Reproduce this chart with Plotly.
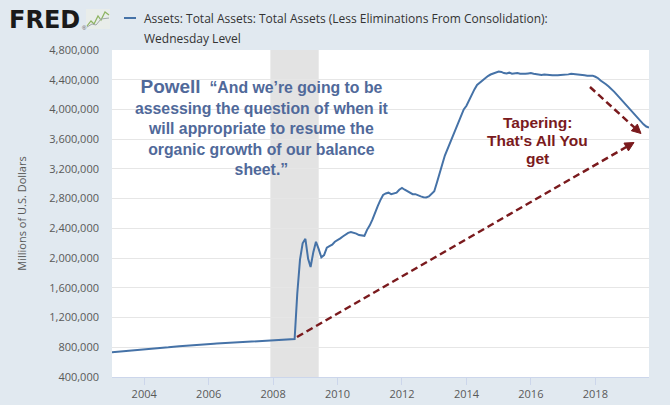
import math

import pandas as pd
import plotly.graph_objects as go

PAPER_COLOR = "#E1E9F0"
LINE_COLOR = "#4572A7"
GRID_COLOR = "#E6E6E6"
TEXT_COLOR = "#595959"
QUOTE_COLOR = "#50699A"
TAPER_COLOR = "#7A1A1D"
FONT = "Open Sans, sans-serif"

SERIES_NAME = "Assets: Total Assets: Total Assets (Less Eliminations From Consolidation):"
SERIES_NAME_2 = "Wednesday Level"
Y_TITLE = "Millions of U.S. Dollars"

# monthly readings (millions of US dollars), Jan 2003 .. Sep 2019
V2003 = [733000, 736000, 738000, 742000, 745000, 748000, 752000, 750000, 755000, 758000, 760000, 765000]
V2004 = [766000, 770000, 774000, 778000, 781000, 785000, 790000, 793000, 797000, 800000, 805000, 812000]
V2005 = [812000, 815000, 818000, 820000, 824000, 828000, 830000, 832000, 834000, 836000, 840000, 845000]
V2006 = [843000, 846000, 848000, 850000, 852000, 855000, 856000, 858000, 857000, 860000, 862000, 866000]
V2007 = [862000, 864000, 866000, 868000, 870000, 872000, 873000, 875000, 878000, 880000, 882000, 888000]
V2008 = [888000, 890000, 893000, 895000, 898000, 900000, 903000, 906000, 910000, 1520000, 1980000, 2200000]
V2009 = [2260000, 1990000, 1880000, 2080000, 2220000, 2120000, 2010000, 2040000, 2140000, 2160000, 2180000, 2220000]
V2010 = [2240000, 2265000, 2290000, 2320000, 2340000, 2350000, 2345000, 2330000, 2310000, 2300000, 2300000, 2380000]
V2011 = [2440000, 2520000, 2620000, 2700000, 2780000, 2850000, 2870000, 2880000, 2860000, 2870000, 2880000, 2920000]
V2012 = [2945000, 2920000, 2900000, 2870000, 2860000, 2860000, 2840000, 2830000, 2820000, 2815000, 2830000, 2860000]
V2013 = [2900000, 3020000, 3150000, 3260000, 3380000, 3470000, 3580000, 3660000, 3750000, 3840000, 3920000, 4000000]
V2014 = [4050000, 4130000, 4200000, 4270000, 4330000, 4360000, 4400000, 4430000, 4450000, 4470000, 4485000, 4495000]
V2015 = [4510000, 4505000, 4490000, 4485000, 4495000, 4480000, 4485000, 4490000, 4480000, 4475000, 4480000, 4485000]
V2016 = [4490000, 4480000, 4475000, 4470000, 4465000, 4470000, 4472000, 4465000, 4460000, 4458000, 4460000, 4465000]
V2017 = [4465000, 4475000, 4472000, 4480000, 4478000, 4470000, 4470000, 4468000, 4460000, 4455000, 4455000, 4455000]
V2018 = [4440000, 4420000, 4390000, 4370000, 4340000, 4310000, 4280000, 4240000, 4200000, 4160000, 4120000, 4080000]
V2019 = [4040000, 3990000, 3950000, 3910000, 3870000, 3830000, 3800000, 3770000, 3755000]

values = (V2003 + V2004 + V2005 + V2006 + V2007 + V2008 + V2009 + V2010
          + V2011 + V2012 + V2013 + V2014 + V2015 + V2016 + V2017 + V2018 + V2019)
dates = pd.date_range("2003-01-01", periods=len(values), freq="MS")

RECESSION = ("2007-12-01", "2009-06-01")
X_RANGE = ["2003-01-01", "2019-09-01"]
Y_RANGE = [400000, 4800000]

QUOTE = ("<span style='font-size:19px'>Powell</span>  \u201cAnd we\u2019re going to be<br>"
         "assessing the question of when it<br>"
         "will appropriate to resume the<br>"
         "organic growth of our balance<br>"
         "sheet.\u201d")
TAPER_LINES = ["Tapering:", "That's All You", "get"]

# plot area in pixels: x 112..649, y 50..377
L, R, T, B = 112, 649, 50, 377


def px(x):
    return (x - L) / (R - L)


def py(y):
    return (B - y) / (B - T)


def dashed_arrow(x0, y0, x1, y1, head_len=9, head_half=4.5):
    """Dashed line with a filled head, given in page pixels."""
    dx, dy = x1 - x0, y1 - y0
    n = math.hypot(dx, dy)
    ux, uy = dx / n, dy / n
    bx, by = x1 - head_len * ux, y1 - head_len * uy
    vx, vy = -uy * head_half, ux * head_half
    line = dict(type="line", xref="paper", yref="paper", x0=px(x0), y0=py(y0),
                x1=px(bx), y1=py(by),
                line={"color": TAPER_COLOR, "width": 2.5, "dash": "7px,4px"})
    head = dict(type="path", xref="paper", yref="paper",
                path="M {} {} L {} {} L {} {} Z".format(
                    px(x1), py(y1), px(bx + vx), py(by + vy), px(bx - vx), py(by - vy)),
                fillcolor=TAPER_COLOR, line={"color": TAPER_COLOR, "width": 1})
    return [line, head]


fig = go.Figure()
fig.add_trace(go.Scatter(
    x=dates, y=values, mode="lines",
    line={"color": LINE_COLOR, "width": 2},
    showlegend=False, hoverinfo="x+y",
))

shapes = [
    dict(type="rect", xref="x", yref="paper", x0=RECESSION[0], x1=RECESSION[1],
         y0=0, y1=1, fillcolor="#E3E3E3", line={"width": 0}, layer="below"),
    # legend swatch
    dict(type="line", xref="paper", yref="paper", x0=px(124), x1=px(136),
         y0=py(18), y1=py(18), line={"color": LINE_COLOR, "width": 2}),
    # FRED icon
    dict(type="rect", xref="paper", yref="paper", x0=px(86), x1=px(110),
         y0=py(29), y1=py(9), fillcolor="#E9EDEA", line={"width": 0}),
    dict(type="path", xref="paper", yref="paper",
         path="M {} {} L {} {} L {} {} L {} {} L {} {} L {} {} L {} {}".format(
             px(87), py(26), px(91), py(21), px(94), py(24), px(98), py(16),
             px(101), py(20), px(105), py(12), px(109), py(15)),
         line={"color": "#8DB360", "width": 1.2}),
    dict(type="path", xref="paper", yref="paper",
         path="M {} {} L {} {} L {} {} L {} {} L {} {}".format(
             px(87), py(27), px(92), py(24), px(96), py(25), px(101), py(19),
             px(109), py(18)),
         line={"color": "#A0A8A8", "width": 1}),
]
shapes += dashed_arrow(590, 87, 641, 133.5)
shapes += dashed_arrow(297, 337, 634, 142.5)

annotations = [
    dict(text="FRED", xref="paper", yref="paper", x=px(7), y=py(20), xanchor="left",
         yanchor="middle", showarrow=False,
         font={"family": "DejaVu Sans", "size": 24, "color": "#1A1A1A", "weight": "bold"}),
    dict(text="\u00ae", xref="paper", yref="paper", x=px(80), y=py(28), xanchor="left",
         yanchor="middle", showarrow=False, font={"family": "Arial", "size": 6, "color": "#555"}),
    dict(text=SERIES_NAME, xref="paper", yref="paper", x=px(142), y=py(18),
         xanchor="left", yanchor="middle", showarrow=False,
         font={"family": FONT, "size": 12, "color": "#333333"}),
    dict(text=SERIES_NAME_2, xref="paper", yref="paper", x=px(142), y=py(39),
         xanchor="left", yanchor="middle", showarrow=False,
         font={"family": FONT, "size": 12, "color": "#333333"}),
    dict(text=QUOTE, xref="paper", yref="paper", x=px(262), y=py(127),
         xanchor="center", yanchor="middle", align="center", showarrow=False,
         font={"family": "Liberation Sans, Arial", "size": 15.8, "color": QUOTE_COLOR, "weight": "bold"}),
]
for line_text, y_pos in zip(TAPER_LINES, [122, 140, 158]):
    annotations.append(dict(
        text=line_text, xref="paper", yref="paper", x=px(537), y=py(y_pos),
        xanchor="center", yanchor="middle", showarrow=False,
        font={"family": "Liberation Sans, Arial", "size": 15.5, "color": TAPER_COLOR, "weight": "bold"},
    ))

fig.update_layout(
    width=670, height=405,
    paper_bgcolor=PAPER_COLOR,
    plot_bgcolor="#FFFFFF",
    margin={"l": L, "r": 670 - R, "t": T, "b": 405 - B, "autoexpand": False},
    font={"family": FONT, "color": TEXT_COLOR, "size": 11},
    shapes=shapes,
    annotations=annotations,
    showlegend=False,
)

fig.update_xaxes(
    type="date", range=X_RANGE, tick0="2004-01-01", dtick="M24", tickformat="%Y",
    ticks="outside", ticklen=7, tickcolor="#CCD6EB", showgrid=False,
    showline=True, linecolor="#CCD6EB", linewidth=1, zeroline=False,
    tickfont={"size": 11, "color": TEXT_COLOR},
)
fig.update_yaxes(
    range=Y_RANGE, dtick=400000, tickformat=",", showgrid=True, gridcolor=GRID_COLOR,
    gridwidth=1, zeroline=False, ticks="", ticklabelstandoff=12,
    tickfont={"size": 11, "color": TEXT_COLOR},
    title={"text": Y_TITLE, "standoff": 20, "font": {"size": 11, "color": TEXT_COLOR}},
)

fig.write_html("out.html", config={"displayModeBar": False},
               post_script="document.body.style.margin = '0';")
